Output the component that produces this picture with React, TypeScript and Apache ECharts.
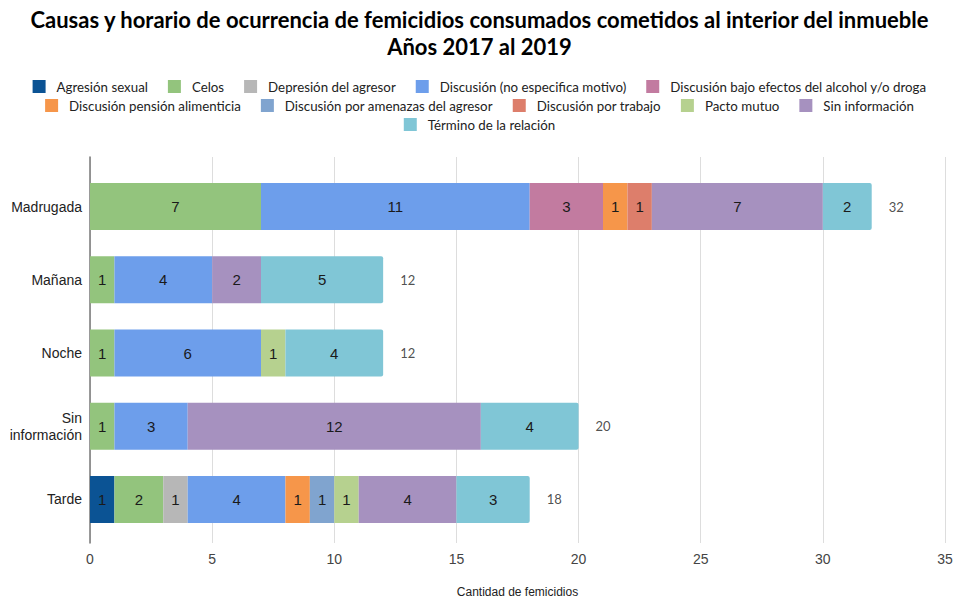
import React, { useEffect, useRef } from "react";
import * as echarts from "echarts";

const categories = ["Madrugada", "Mañana", "Noche", "Sin\ninformación", "Tarde"];

const seriesNames = [
  "Agresión sexual",
  "Celos",
  "Depresión del agresor",
  "Discusión (no especifica motivo)",
  "Discusión bajo efectos del alcohol y/o droga",
  "Discusión pensión alimenticia",
  "Discusión por amenazas del agresor",
  "Discusión por trabajo",
  "Pacto mutuo",
  "Sin información",
  "Término de la relación",
];

const agresionSexual = [0, 0, 0, 0, 1];
const celos = [7, 1, 1, 1, 2];
const depresion = [0, 0, 0, 0, 1];
const discusion = [11, 4, 6, 3, 4];
const alcohol = [3, 0, 0, 0, 0];
const pension = [1, 0, 0, 0, 1];
const amenazas = [0, 0, 0, 0, 1];
const trabajo = [1, 0, 0, 0, 0];
const pacto = [0, 0, 1, 0, 1];
const sinInfo = [7, 2, 0, 12, 4];
const termino = [2, 5, 4, 4, 3];

const seriesValues = [agresionSexual, celos, depresion, discusion, alcohol, pension, amenazas, trabajo, pacto, sinInfo, termino];

const colors = [
  "#0b5394",
  "#93c47d",
  "#b7b7b7",
  "#6d9eeb",
  "#c27ba0",
  "#f6964a",
  "#80a4cf",
  "#dd7e6b",
  "#b6d18f",
  "#a691bf",
  "#80c6d6",
];

const legendRows = [
  seriesNames.slice(0, 5),
  seriesNames.slice(5, 10),
  seriesNames.slice(10),
];

const xTicks = { min: 0, max: 35, interval: 5 };

export default function App() {
  const ref = useRef<HTMLDivElement>(null);
  useEffect(() => {
    if (!ref.current) return;
    const chart = echarts.init(ref.current, null, { renderer: "svg" });
    const totals = categories.map((_, i) => seriesValues.reduce((s, arr) => s + arr[i], 0));

    const barSeries = seriesNames.map((name, si) => ({
      name,
      type: "bar",
      stack: "total",
      xAxisIndex: 1,
      yAxisIndex: 1,
      barWidth: 47,
      itemStyle: {
        color: colors[si],
        borderRadius: si === seriesNames.length - 1 ? [0, 2, 2, 0] : 0,
      },
      label: {
        show: true,
        position: "inside",
        color: "#1a1a1a",
        fontFamily: "Liberation Sans, Arial, sans-serif",
        fontSize: 15,
        formatter: (p: any) => (p.value > 0 ? String(p.value) : ""),
      },
      data: seriesValues[si].map((v) => (v === 0 ? null : v)),
    }));

    const option: any = {
      animation: false,
      title: {
        text: "Causas y horario de ocurrencia de femicidios consumados cometidos al interior del inmueble\nAños 2017 al 2019",
        left: "center",
        top: 1,
        textStyle: {
          fontFamily: "Lato, sans-serif",
          fontWeight: "bold",
          fontSize: 22,
          lineHeight: 27,
          color: "#000",
        },
      },
      legend: legendRows.map((row, ri) => ({
        data: row,
        left: "center",
        top: 80 + ri * 19,
        itemWidth: 13,
        itemHeight: 13,
        itemGap: 20,
        icon: "rect",
        textStyle: {
          fontFamily: "Lato, sans-serif",
          fontSize: 13.3,
          color: "#222",
          padding: [0, 0, 0, 6],
        },
        padding: 0,
      })),
      grid: [
        { left: 90, right: 14, top: 157, bottom: 52 },
        { left: 90, right: 14, top: 170, bottom: 67 },
      ],
      xAxis: [
        {
          type: "value",
          gridIndex: 0,
          ...xTicks,
          splitLine: { show: true, lineStyle: { color: "#dddddd", width: 1 } },
          axisLine: { show: false },
          axisTick: { show: false },
          axisLabel: {
            fontFamily: "Liberation Sans, Arial, sans-serif",
            fontSize: 14,
            color: "#444",
            margin: 9,
          },
          name: "Cantidad de femicidios",
          nameLocation: "middle",
          nameGap: 43,
          nameTextStyle: {
            fontFamily: "Liberation Sans, Arial, sans-serif",
            fontSize: 12,
            color: "#222",
          },
        },
        {
          type: "value",
          gridIndex: 1,
          ...xTicks,
          show: false,
        },
      ],
      yAxis: [
        {
          type: "value",
          gridIndex: 0,
          axisLine: { show: true, lineStyle: { color: "#777", width: 1.5 } },
          axisLabel: { show: false },
          axisTick: { show: false },
          splitLine: { show: false },
        },
        {
          type: "category",
          gridIndex: 1,
          inverse: true,
          data: categories,
          axisLine: { show: false },
          axisTick: { show: false },
          axisLabel: {
            fontFamily: "Liberation Sans, Arial, sans-serif",
            fontSize: 14,
            color: "#222",
            margin: 8,
            lineHeight: 17,
            align: "right",
          },
        },
      ],
      series: [
        ...barSeries,
        {
          name: "total",
          type: "scatter",
          xAxisIndex: 1,
          yAxisIndex: 1,
          symbolSize: 0,
          silent: true,
          data: totals.map((t, i) => [t, i]),
          label: {
            show: true,
            position: "right",
            distance: 17,
            color: "#222",
            fontFamily: "Lato, sans-serif",
            fontSize: 13,
            formatter: (p: any) => String(p.value[0]),
          },
        },
      ],
    };
    chart.setOption(option);
    return () => chart.dispose();
  }, []);
  return (
    <div
      ref={ref}
      style={{ position: "absolute", left: 0, top: 0, width: 959, height: 603 }}
    />
  );
}
